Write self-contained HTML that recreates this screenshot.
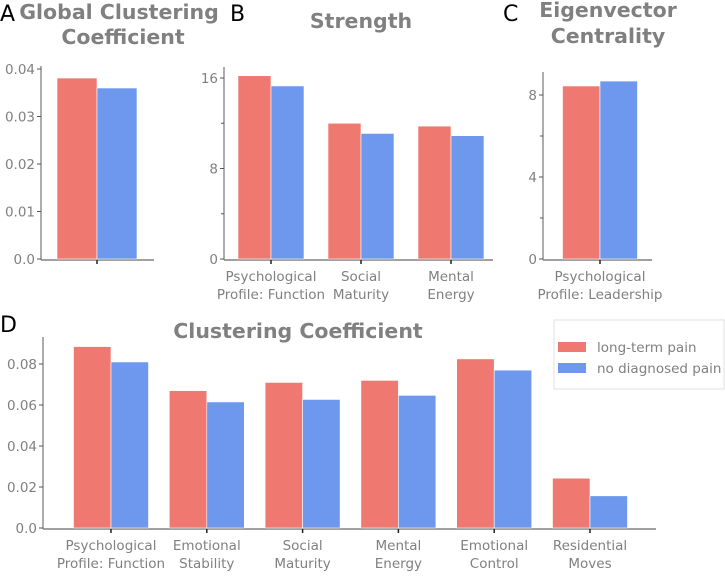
<!DOCTYPE html>
<html><head><meta charset="utf-8"><style>
body{margin:0;background:#fff}
svg{display:block;font-family:"DejaVu Sans","Liberation Sans",sans-serif}
.tk{fill:#808080;font-size:13.5px}
.lg{fill:#808080;font-size:13.5px}
.tt{fill:#808080;font-size:20.5px;font-weight:bold}
.pl{fill:#000;font-size:22px}
</style></head><body>
<svg id="c" width="725" height="577">
<text class="pl" x="0" y="21">A</text>
<text class="tt" x="119" y="19" text-anchor="middle">Global Clustering</text>
<text class="tt" x="123" y="44" text-anchor="middle">Coefficient</text>
<text class="pl" x="230" y="21">B</text>
<text class="tt" x="361" y="28" text-anchor="middle">Strength</text>
<text class="pl" x="503" y="21">C</text>
<text class="tt" x="608" y="17" text-anchor="middle">Eigenvector</text>
<text class="tt" x="608" y="43" text-anchor="middle">Centrality</text>
<text class="pl" x="0" y="332">D</text>
<text class="tt" x="298" y="338" text-anchor="middle">Clustering Coefficient</text>
<g>
<rect x="554" y="320" width="170" height="69" fill="#fff" stroke="#e0e0e0"/>
<rect x="558" y="342" width="28" height="10" fill="#ef7970"/>
<text x="597" y="352" class="lg">long-term pain</text>
<rect x="558" y="363" width="28" height="10" fill="#6d98ee"/>
<text x="597" y="373" class="lg">no diagnosed pain</text>
</g>
</svg>
<script>
const aCats=[""];
const aPain=[0.0381];
const aNo=[0.0360];
const aTicks=[0,0.01,0.02,0.03,0.04];
const aTickLabels=["0.0","0.01","0.02","0.03","0.04"];

const bCats=[["Psychological","Profile: Function"],["Social","Maturity"],["Mental","Energy"]];
const bPain=[16.2,12.0,11.75];
const bNo=[15.3,11.1,10.9];
const bTicks=[0,8,16];
const bMinor=[4,12];

const cCats=[["Psychological","Profile: Leadership"]];
const cPain=[8.44];
const cNo=[8.68];
const cTicks=[0,4,8];
const cMinor=[2,6];

const dCats=[["Psychological","Profile: Function"],["Emotional","Stability"],["Social","Maturity"],["Mental","Energy"],["Emotional","Control"],["Residential","Moves"]];
const dPain=[0.0885,0.067,0.071,0.072,0.0825,0.0243];
const dNo=[0.081,0.0615,0.0627,0.0647,0.077,0.0157];
const dTicks=[0,0.02,0.04,0.06,0.08];
const dTickLabels=["0.0","0.02","0.04","0.06","0.08"];

const svg=document.getElementById('c');
const NS='http://www.w3.org/2000/svg';
function mk(t,a){const e=document.createElementNS(NS,t);for(const k in a)e.setAttribute(k,a[k]);svg.appendChild(e);return e;}

function panel(p,cats,pain,no,ticks,labels,minor,o){
  const y=v=>o.y0-(v-o.vmin)/(o.vmax-o.vmin)*(o.y0-o.y1);
  let l=mk('line',{x1:o.ax,y1:o.ytop,x2:o.ax,y2:o.y0+1,stroke:'#808080','stroke-width':1.3});
  
  
  l=mk('line',{x1:o.ax,y1:o.y0+1,x2:o.xend,y2:o.y0+1,stroke:'#808080','stroke-width':1.5});
  
  
  ticks.forEach((v,i)=>{
    const t=mk('line',{x1:o.ax-4,x2:o.ax,y1:y(v),y2:y(v),stroke:'#555','stroke-width':1});
    
    
    const tx=mk('text',{x:o.ax-6,y:y(v)+5,'text-anchor':'end',class:'tk'});
    tx.textContent=labels?labels[i]:String(v);
    
    
  });
  (minor||[]).forEach(v=>{
    const t=mk('line',{x1:o.ax-3,x2:o.ax,y1:y(v),y2:y(v),stroke:'#555','stroke-width':1});
    
    
  });
  cats.forEach((c,i)=>{
    const cx=o.x0+i*o.step;
    const r=mk('rect',{x:cx-o.bw,y:y(pain[i]),width:o.bw,height:o.y0-y(pain[i]),fill:'#ef7970',stroke:'#fff','stroke-width':0.6});
    
    
    const b=mk('rect',{x:cx,y:y(no[i]),width:o.bw,height:o.y0-y(no[i]),fill:'#6d98ee',stroke:'#fff','stroke-width':0.6});
    
    
    const t=mk('line',{x1:cx,x2:cx,y1:o.y0+1,y2:o.y0+5,stroke:'#222','stroke-width':1.5});
    
    
    if(Array.isArray(c)){c.forEach((ln,j)=>{
      const tx=mk('text',{x:cx,y:o.y0+22+j*18,'text-anchor':'middle',class:'tk'});
      tx.textContent=ln;
      
      
    });}
  });
}
panel('a',aCats,aPain,aNo,aTicks,aTickLabels,null,{ax:41,y0:259,y1:69,vmin:0,vmax:0.04,ytop:66,xend:154,x0:97,step:0,bw:40});
panel('b',bCats,bPain,bNo,bTicks,null,bMinor,{ax:224,y0:259,y1:78,vmin:0,vmax:16,ytop:67,xend:493,x0:271,step:90,bw:33});
panel('c',cCats,cPain,cNo,cTicks,null,cMinor,{ax:543,y0:259,y1:95,vmin:0,vmax:8,ytop:72,xend:652,x0:600,step:0,bw:37.5});
panel('d',dCats,dPain,dNo,dTicks,dTickLabels,null,{ax:43,y0:528,y1:364,vmin:0,vmax:0.08,ytop:337,xend:656,x0:111,step:95.8,bw:37.5});
</script>
</body></html>
